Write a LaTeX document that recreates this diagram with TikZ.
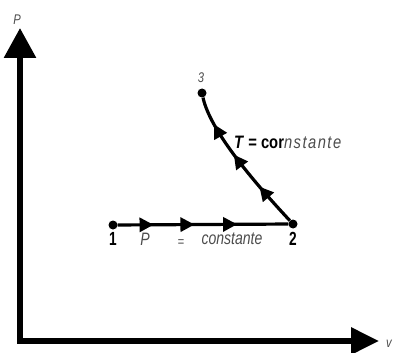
\documentclass[tikz,border=0pt]{standalone}
\usepackage{fontspec}
\setmainfont{Liberation Sans}
\usetikzlibrary{arrows.meta}
\usetikzlibrary{decorations,decorations.markings}

\begin{document}
\begin{tikzpicture}[x=1pt,y=-1pt,
  dot/.style={circle,fill,inner sep=0pt,minimum size=9pt},
  lbl/.style={font=\itshape\fontsize{18}{18}\selectfont,text=black!70,xscale=.78,inner sep=0pt},
  small/.style={font=\itshape\fontsize{14}{14}\selectfont,text=black!70,xscale=.8,inner sep=0pt},
  num/.style={font=\bfseries\fontsize{19}{19}\selectfont,xscale=.72,inner sep=0pt},
  flow/.style={line width=3.2pt,postaction={decorate}},
  tri/.tip={Triangle[length=14pt,width=14pt]}]
\useasboundingbox (0,0) rectangle (394,353);
% axes
\coordinate (o) at (20,342);
\coordinate (ptop) at (20,28);
\coordinate (vend) at (379,341);
\draw[line width=6pt,{Triangle[length=30pt,width=31pt]}-{Triangle[length=28pt,width=26pt]}] (ptop) |- (vend);
\node[small] (plab) at (17,20) {P};
\node[small,anchor=west] (vlab) at (386,344) {v};
% states
\node[dot] (n1) at (113,225) {};
\node[dot] (n2) at (293,224) {};
\node[dot] (n3) at (202,93) {};
\draw[flow,decoration={markings,
  mark=at position .21 with {\arrow{tri}},
  mark=at position .45 with {\arrow{tri}},
  mark=at position .70 with {\arrow{tri}}}] (n1) -- (n2);
\draw[flow,decoration={markings,
  mark=at position .30 with {\arrow{tri}},
  mark=at position .57 with {\arrow{tri}},
  mark=at position .81 with {\arrow{tri}}}] (n2) .. controls (252,180) and (210,130) .. (n3);
% labels
\node[num] (l1) at (113,239) {1};
\node[num] (l2) at (293,239) {2};
\node[small] (l3) at (201,78) {3};
\node[lbl] (lp) at (145,239) {P};
\node[small] (leq) at (181,243) {=};
\node[lbl] (lc) at (232,239) {constante};
\node[anchor=west,inner sep=0pt,xscale=.82,font=\fontsize{18}{18}\selectfont] (lt) at (234,142)
  {\textbf{\textit{T} = cor}{\color{black!70}\itshape\addfontfeature{LetterSpace=10}nstante}};
\end{tikzpicture}
\end{document}
